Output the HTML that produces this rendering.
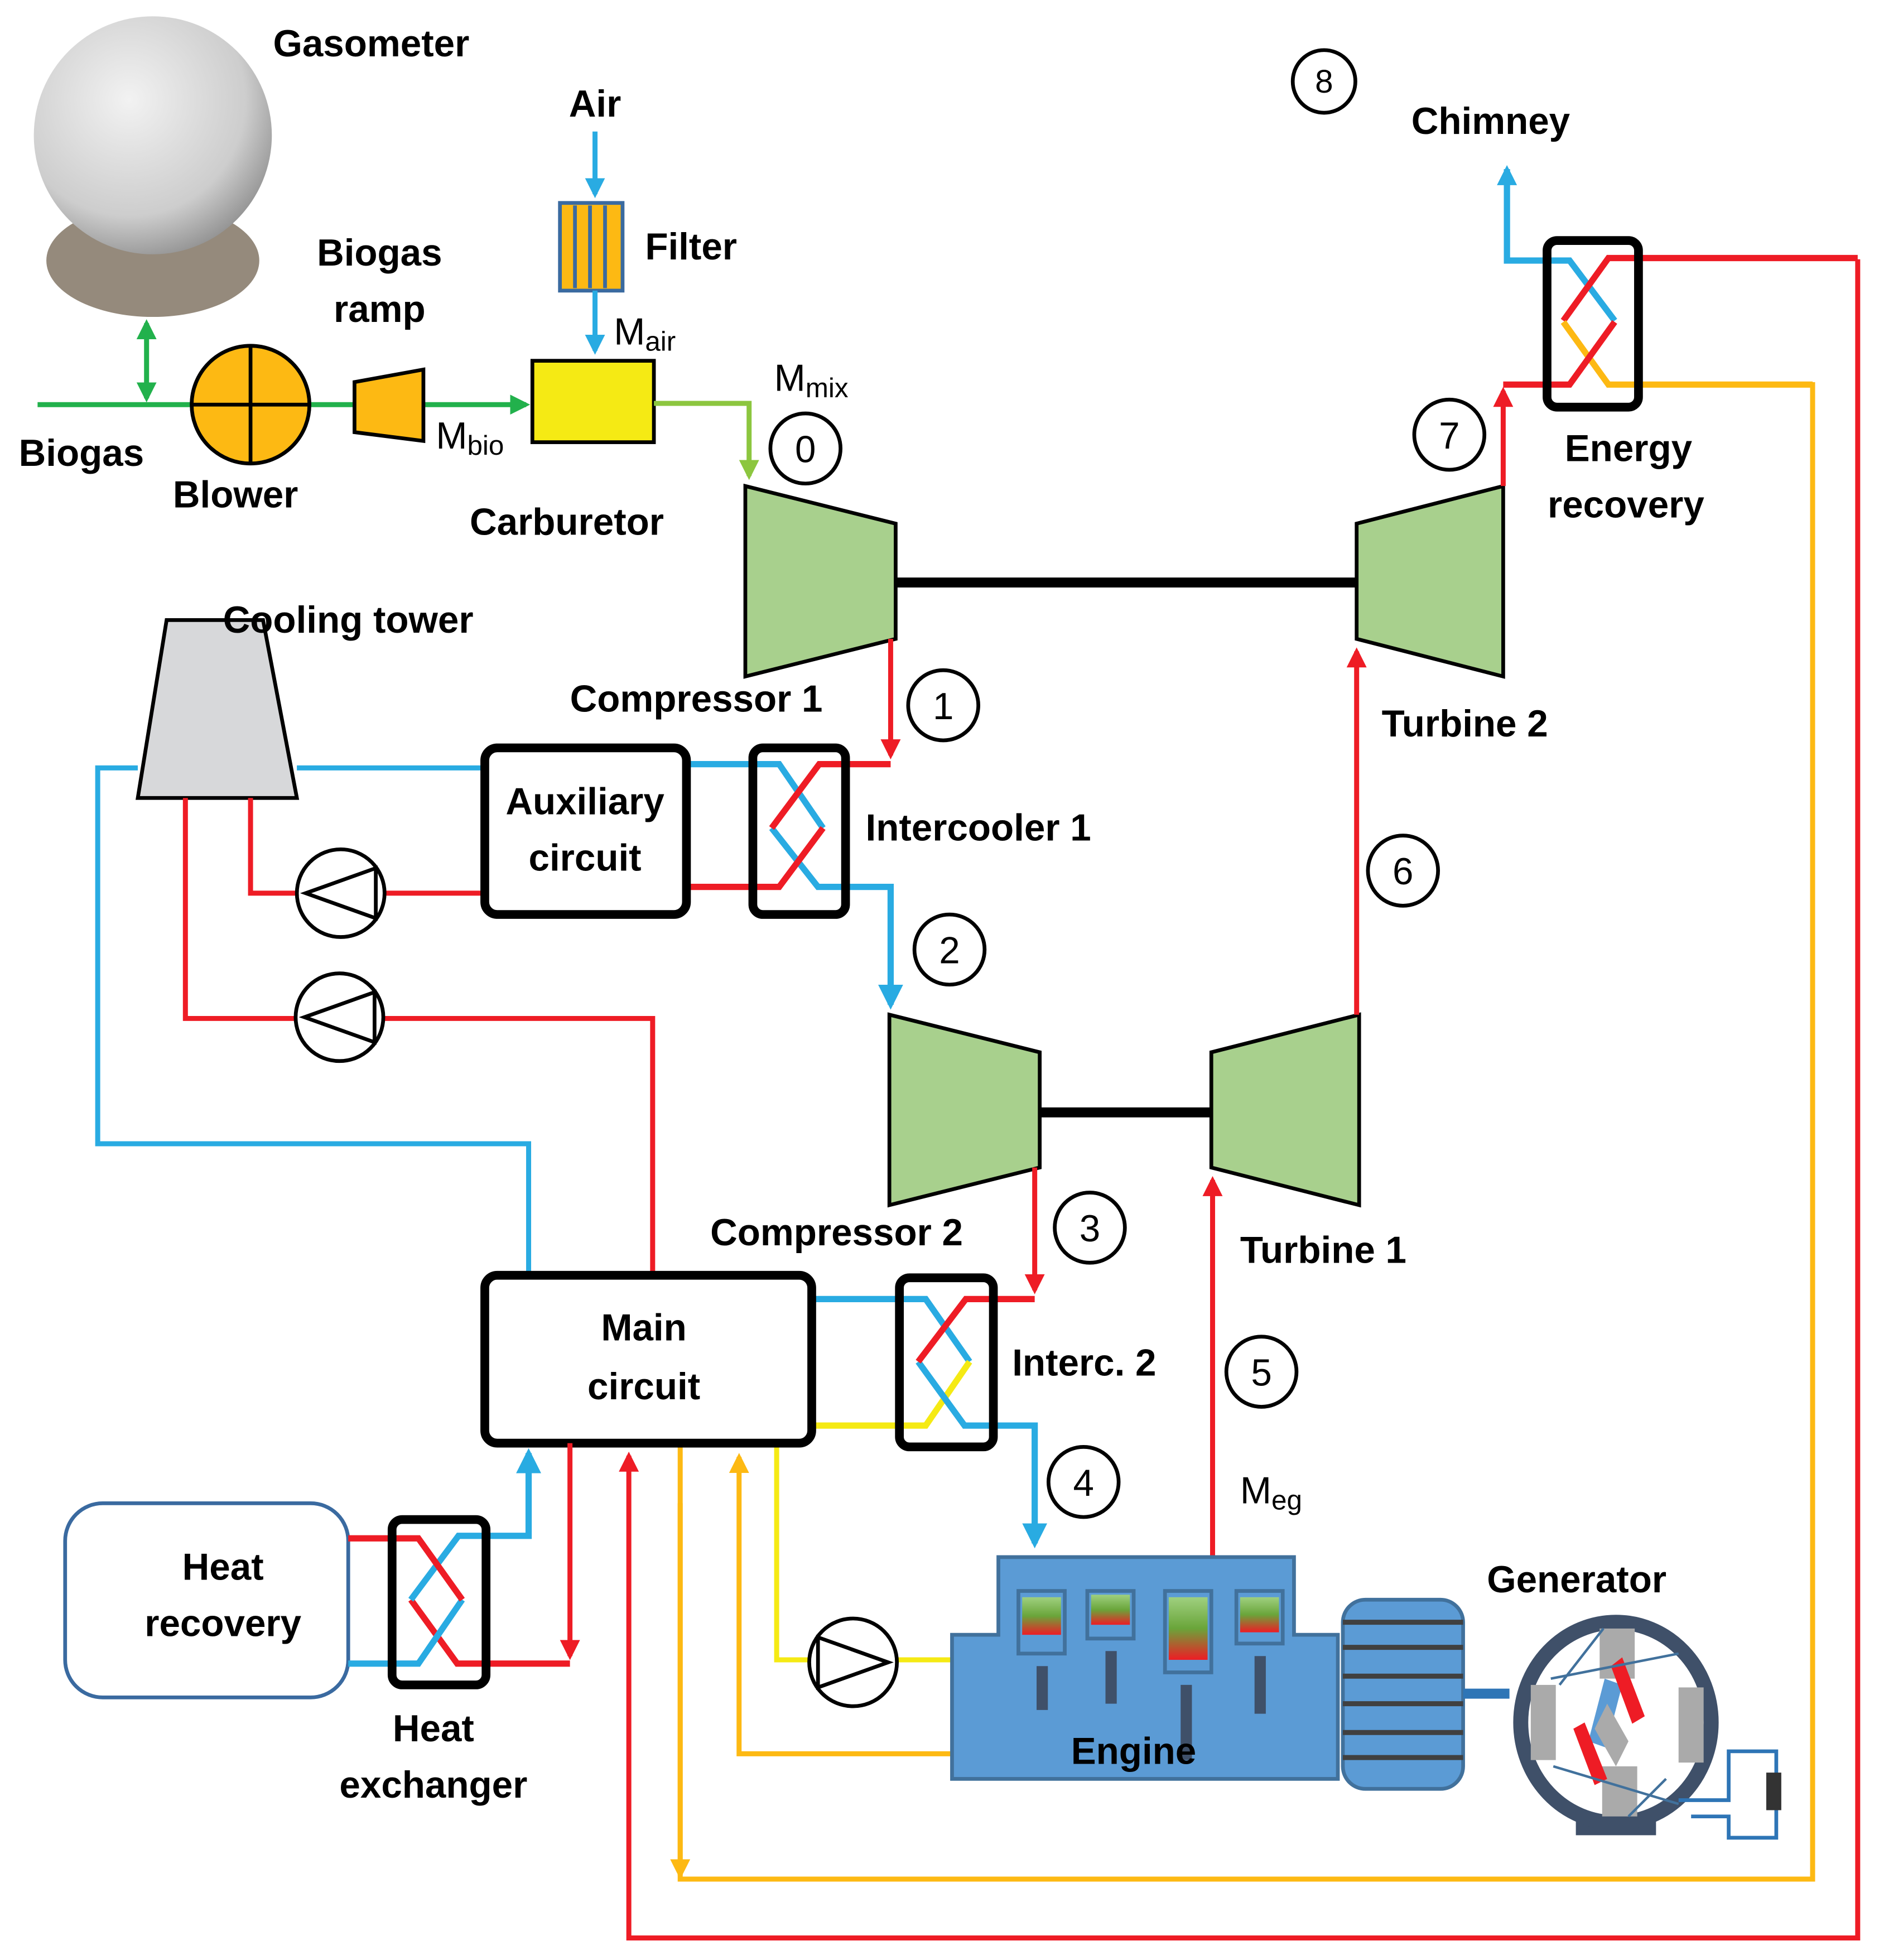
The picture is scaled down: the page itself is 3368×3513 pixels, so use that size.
<!DOCTYPE html>
<html><head><meta charset="utf-8"><style>
html,body{margin:0;padding:0;background:#fff}
svg{display:block}
text{font-family:"Liberation Sans",sans-serif;font-weight:bold;font-size:30px;fill:#000}
.n{font-weight:normal}
</style></head><body>
<svg width="3368" height="3513" viewBox="0 0 1500 1564.6" preserveAspectRatio="none" xmlns="http://www.w3.org/2000/svg">
<defs>
<marker id="ar" viewBox="0 0 10 10" refX="8" refY="5" markerWidth="4" markerHeight="4" orient="auto-start-reverse"><path d="M0,0L10,5L0,10z" fill="#ee1c25"/></marker>
<marker id="ab" viewBox="0 0 10 10" refX="8" refY="5" markerWidth="4" markerHeight="4" orient="auto-start-reverse"><path d="M0,0L10,5L0,10z" fill="#29abe2"/></marker>
<marker id="ag" viewBox="0 0 10 10" refX="8" refY="5" markerWidth="4" markerHeight="4" orient="auto-start-reverse"><path d="M0,0L10,5L0,10z" fill="#22b14c"/></marker>
<marker id="alg" viewBox="0 0 10 10" refX="8" refY="5" markerWidth="4" markerHeight="4" orient="auto-start-reverse"><path d="M0,0L10,5L0,10z" fill="#8cc63f"/></marker>
<marker id="ao" viewBox="0 0 10 10" refX="8" refY="5" markerWidth="4" markerHeight="4" orient="auto-start-reverse"><path d="M0,0L10,5L0,10z" fill="#fdb913"/></marker>
<radialGradient id="sph" cx="0.4" cy="0.35" r="0.7"><stop offset="0" stop-color="#f2f2f2"/><stop offset="0.7" stop-color="#cdcdcd"/><stop offset="1" stop-color="#8f8f8f"/></radialGradient>
<linearGradient id="cyl" x1="0" y1="0" x2="0" y2="1"><stop offset="0" stop-color="#9fd07f"/><stop offset="0.5" stop-color="#6aa53a"/><stop offset="1" stop-color="#ee1c25"/></linearGradient>
</defs>
<g fill="none" stroke-width="4">
<!-- gasometer -->
<ellipse cx="122" cy="208" rx="85" ry="45" fill="#958a7c" stroke="none"/>
<circle cx="122" cy="108" r="95" fill="url(#sph)" stroke="none"/>
<!-- biogas line -->
<path d="M30,323H420" stroke="#22b14c" marker-end="url(#ag)"/>
<path d="M117,258V318" stroke="#22b14c" marker-start="url(#ag)" marker-end="url(#ag)"/>
<circle cx="200" cy="323" r="47" fill="#fdb913" stroke="#000" stroke-width="3"/>
<path d="M153,323H247M200,276V370" stroke="#000" stroke-width="3"/>
<path d="M283,305L338,295V352L283,345z" fill="#fdb913" stroke="#000" stroke-width="3"/>
<rect x="425" y="288" width="97" height="65" fill="#f5ea14" stroke="#000" stroke-width="3"/>
<path d="M475,105V155" stroke="#29abe2" marker-end="url(#ab)"/>
<rect x="447" y="162" width="50" height="70" fill="#fdb913" stroke="#3a6aa0" stroke-width="3"/>
<path d="M459,164V230M471,164V230M483,164V230" stroke="#3a6aa0" stroke-width="3"/>
<path d="M475,232V280" stroke="#29abe2" marker-end="url(#ab)"/>
<path d="M522,322H598V380" stroke="#8cc63f" marker-end="url(#alg)"/>
<!-- turbomachines -->
<path d="M715,465H1083M830,888H967" stroke="#000" stroke-width="8"/>
<path d="M595,388L715,418V510L595,540z" fill="#a8d08d" stroke="#000" stroke-width="3"/>
<path d="M1083,418L1200,388V540L1083,510z" fill="#a8d08d" stroke="#000" stroke-width="3"/>
<path d="M710,810L830,840V932L710,962z" fill="#a8d08d" stroke="#000" stroke-width="3"/>
<path d="M967,840L1085,810V962L967,932z" fill="#a8d08d" stroke="#000" stroke-width="3"/>
<!-- cooling tower -->
<path d="M133,495H210L237,637H110z" fill="#d7d8da" stroke="#000" stroke-width="3"/>
<path d="M237,613H387M110,613H78V913H422V1018" stroke="#29abe2"/>
<path d="M200,637V713H387M148,637V813H521V1018" stroke="#ee1c25"/>
<circle cx="272" cy="713" r="35" fill="#fff" stroke="#000" stroke-width="3"/>
<path d="M300,693L244,713L300,733z" stroke="#000" stroke-width="3"/>
<circle cx="271" cy="812" r="35" fill="#fff" stroke="#000" stroke-width="3"/>
<path d="M299,792L243,812L299,832z" stroke="#000" stroke-width="3"/>
<!-- intercooler 1 -->
<path d="M711,510V603" stroke="#ee1c25" marker-end="url(#ar)"/>
<path d="M548,610H622L657,661" stroke="#29abe2" stroke-width="5"/>
<path d="M616,661L653,708H711V802" stroke="#29abe2" stroke-width="5" marker-end="url(#ab)"/>
<path d="M711,610H654L616,661" stroke="#ee1c25" stroke-width="5"/>
<path d="M657,661L622,708H548" stroke="#ee1c25" stroke-width="5"/>
<rect x="601" y="597" width="74" height="133" rx="8" stroke="#000" stroke-width="7"/>
<rect x="387" y="597" width="161" height="133" rx="10" fill="#fff" stroke="#000" stroke-width="7"/>
<!-- turbine lines -->
<path d="M1083,810V520" stroke="#ee1c25" marker-end="url(#ar)"/>
<path d="M826,932V1030" stroke="#ee1c25" marker-end="url(#ar)"/>
<!-- interc 2 -->
<path d="M648,1037H739L774,1087" stroke="#29abe2" stroke-width="5"/>
<path d="M774,1087L739,1138H648" stroke="#f5ea14" stroke-width="5"/>
<path d="M733,1087L770,1138H826V1232" stroke="#29abe2" stroke-width="5" marker-end="url(#ab)"/>
<path d="M826,1037H771L733,1087" stroke="#ee1c25" stroke-width="5"/>
<rect x="718" y="1020" width="75" height="135" rx="8" stroke="#000" stroke-width="7"/>
<path d="M968,1245V942" stroke="#ee1c25" marker-end="url(#ar)"/>
<!-- main circuit bottom lines -->
<path d="M1483,207V1547H502V1162" stroke="#ee1c25" marker-end="url(#ar)"/>
<path d="M1287,307H1447V1500H543V1152" stroke="#fdb913"/>
<path d="M543,1200V1497" stroke="#fdb913" marker-end="url(#ao)"/>
<path d="M760,1400H590V1163" stroke="#fdb913" marker-end="url(#ao)"/>
<path d="M620,1152V1325H760" stroke="#f5ea14"/>
<circle cx="681" cy="1327" r="35" fill="#fff" stroke="#000" stroke-width="3"/>
<path d="M653,1307L709,1327L653,1347z" stroke="#000" stroke-width="3"/>
<rect x="387" y="1018" width="261" height="134" rx="10" fill="#fff" stroke="#000" stroke-width="7"/>
<!-- heat recovery -->
<rect x="52" y="1200" width="226" height="155" rx="30" fill="#fff" stroke="#3a6aa0" stroke-width="3"/>
<path d="M455,1152V1322" stroke="#ee1c25" marker-end="url(#ar)"/>
<path d="M328,1277L365,1328H455" stroke="#ee1c25" stroke-width="5"/>
<path d="M369,1277L334,1328H278" stroke="#29abe2" stroke-width="5"/>
<path d="M422,1160V1226H366L328,1277" stroke="#29abe2" stroke-width="5" marker-start="url(#ab)"/>
<path d="M278,1228H334L369,1277" stroke="#ee1c25" stroke-width="5"/>
<rect x="313" y="1213" width="75" height="132" rx="8" stroke="#000" stroke-width="7"/>
<!-- energy recovery -->
<path d="M1200,388V312" stroke="#ee1c25" marker-end="url(#ar)"/>
<path d="M1203,135V208H1253L1289,256" stroke="#29abe2" stroke-width="5"/>
<path d="M1203,207V135" stroke="#29abe2" marker-end="url(#ab)"/>
<path d="M1483,206H1284L1248,256" stroke="#ee1c25" stroke-width="5"/>
<path d="M1248,257L1284,307H1447" stroke="#fdb913" stroke-width="5"/>
<path d="M1289,257L1253,307H1200" stroke="#ee1c25" stroke-width="5"/>
<rect x="1235" y="192" width="73" height="133" rx="8" stroke="#000" stroke-width="7"/>
<!-- engine -->
<path d="M797,1243H1033V1305H1068V1420H760V1305H797z" fill="#5b9bd5" stroke="#41719c" stroke-width="3"/>
<g stroke="#41719c" stroke-width="3">
<rect x="813" y="1270" width="37" height="50" fill="#5b9bd5"/><rect x="868" y="1270" width="37" height="38" fill="#5b9bd5"/>
<rect x="930" y="1270" width="37" height="65" fill="#5b9bd5"/><rect x="987" y="1270" width="37" height="42" fill="#5b9bd5"/>
</g>
<rect x="816" y="1275" width="31" height="30" fill="url(#cyl)" stroke="none"/>
<rect x="871" y="1273" width="31" height="24" fill="url(#cyl)" stroke="none"/>
<rect x="933" y="1275" width="31" height="50" fill="url(#cyl)" stroke="none"/>
<rect x="990" y="1275" width="31" height="28" fill="url(#cyl)" stroke="none"/>
<path d="M832,1330V1365M887,1318V1360M947,1345V1405M1006,1322V1368" stroke="#3f5069" stroke-width="9"/>
<rect x="1072" y="1277" width="96" height="151" rx="18" fill="#5b9bd5" stroke="#41719c" stroke-width="3"/>
<path d="M1072,1295H1168M1072,1315H1168M1072,1338H1168M1072,1360H1168M1072,1383H1168M1072,1403H1168" stroke="#404040" stroke-width="4"/>
<path d="M1168,1352H1205" stroke="#2e75b6" stroke-width="8"/>
<rect x="1258" y="1430" width="64" height="35" fill="#3f5069" stroke="none"/>
<ellipse cx="1290" cy="1375" rx="76" ry="80" fill="#fff" stroke="#3f5069" stroke-width="12"/>
<rect x="1277" y="1300" width="28" height="40" fill="#aaa" stroke="none"/>
<rect x="1279" y="1410" width="28" height="40" fill="#aaa" stroke="none"/>
<rect x="1222" y="1345" width="20" height="60" fill="#aaa" stroke="none"/>
<rect x="1340" y="1347" width="20" height="60" fill="#aaa" stroke="none"/>
<path d="M1295,1345L1282,1395L1268,1390L1281,1340z" fill="#5b9bd5" stroke="none"/>
<path d="M1283,1360L1300,1390L1290,1410L1273,1380z" fill="#aaa" stroke="none"/>
<path d="M1295,1323L1313,1370L1303,1376L1286,1330z" fill="#ee1c25" stroke="none"/>
<path d="M1265,1375L1283,1420L1273,1425L1256,1380z" fill="#ee1c25" stroke="none"/>
<path d="M1238,1340L1340,1320M1240,1410L1340,1440M1245,1345L1280,1300M1330,1420L1300,1450" stroke="#41719c" stroke-width="2"/>
<path d="M1340,1437H1380V1398H1418V1467H1380V1450H1350" stroke="#2e75b6" stroke-width="3"/>
<rect x="1410" y="1415" width="12" height="30" fill="#333" stroke="none"/>
<!-- number circles -->
<g stroke="#000" stroke-width="3" fill="#fff">
<circle cx="643" cy="358" r="28"/><circle cx="753" cy="563" r="28"/><circle cx="758" cy="758" r="28"/>
<circle cx="870" cy="980" r="28"/><circle cx="865" cy="1183" r="28"/><circle cx="1007" cy="1095" r="28"/>
<circle cx="1120" cy="695" r="28"/><circle cx="1157" cy="347" r="28"/><circle cx="1057" cy="65" r="25"/>
</g>
</g>
<text class="n" x="643" y="369" text-anchor="middle">0</text>
<text class="n" x="753" y="574" text-anchor="middle">1</text>
<text class="n" x="758" y="769" text-anchor="middle">2</text>
<text class="n" x="870" y="991" text-anchor="middle">3</text>
<text class="n" x="865" y="1194" text-anchor="middle">4</text>
<text class="n" x="1007" y="1106" text-anchor="middle">5</text>
<text class="n" x="1120" y="706" text-anchor="middle">6</text>
<text class="n" x="1157" y="358" text-anchor="middle">7</text>
<text class="n" x="1057" y="74" text-anchor="middle" style="font-size:26px">8</text>
<text x="218" y="45">Gasometer</text>
<text x="475" y="93" text-anchor="middle">Air</text>
<text x="515" y="207">Filter</text>
<text x="303" y="212" text-anchor="middle">Biogas</text>
<text x="303" y="257" text-anchor="middle">ramp</text>
<text class="n" x="490" y="275">M<tspan style="font-size:22px" dy="5">air</tspan></text>
<text class="n" x="348" y="358">M<tspan style="font-size:22px" dy="5">bio</tspan></text>
<text class="n" x="618" y="312">M<tspan style="font-size:22px" dy="5">mix</tspan></text>
<text class="n" x="990" y="1200">M<tspan style="font-size:22px" dy="5">eg</tspan></text>
<text x="15" y="372">Biogas</text>
<text x="138" y="405">Blower</text>
<text x="375" y="427">Carburetor</text>
<text x="1190" y="107" text-anchor="middle">Chimney</text>
<text x="1300" y="368" text-anchor="middle">Energy</text>
<text x="1298" y="413" text-anchor="middle">recovery</text>
<text x="178" y="505">Cooling tower</text>
<text x="455" y="568">Compressor 1</text>
<text x="1103" y="588">Turbine 2</text>
<text x="467" y="650" text-anchor="middle">Auxiliary</text>
<text x="467" y="695" text-anchor="middle">circuit</text>
<text x="691" y="671">Intercooler 1</text>
<text x="567" y="994">Compressor 2</text>
<text x="990" y="1008">Turbine 1</text>
<text x="808" y="1098">Interc. 2</text>
<text x="514" y="1070" text-anchor="middle">Main</text>
<text x="514" y="1117" text-anchor="middle">circuit</text>
<text x="178" y="1261" text-anchor="middle">Heat</text>
<text x="178" y="1306" text-anchor="middle">recovery</text>
<text x="346" y="1390" text-anchor="middle">Heat</text>
<text x="346" y="1435" text-anchor="middle">exchanger</text>
<text x="1187" y="1271">Generator</text>
<text x="855" y="1408">Engine</text>
</svg>
</body></html>
